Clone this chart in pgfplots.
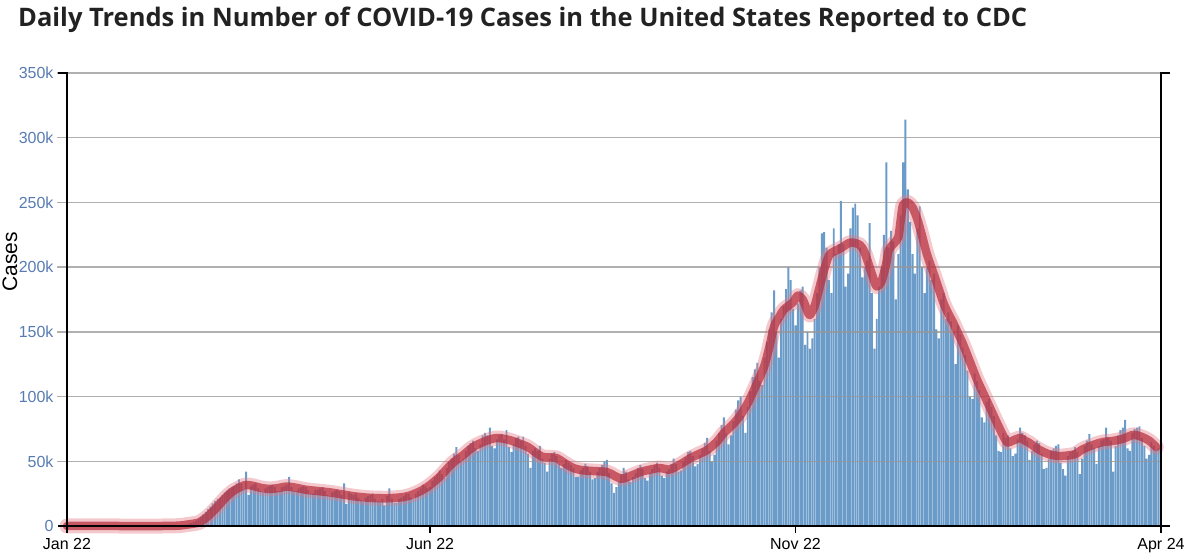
\documentclass[border=0pt]{standalone}
\usepackage{fontspec}
\setmainfont{Liberation Sans}
\newfontfamily\titlefont{Open Sans}
\usepackage{pgfplots}
\pgfplotsset{compat=1.18}
\definecolor{barblue}{RGB}{107,155,200}
\definecolor{tickblue}{RGB}{88,124,178}
\definecolor{avgred}{RGB}{182,42,56}
\definecolor{halo}{RGB}{228,120,132}
\definecolor{gridgray}{RGB}{150,150,150}
\definecolor{titlecol}{RGB}{34,34,34}
\begin{document}
\begin{tikzpicture}
\useasboundingbox (0,0) rectangle (1193pt,556pt);
\node[anchor=base west, inner sep=0, text=titlecol, font={\titlefont\bfseries\fontsize{25.5}{30}\selectfont}] at (18pt,529pt) {Daily Trends in Number of COVID-19 Cases in the United States Reported to CDC};
\node[rotate=90, anchor=base, inner sep=0, font={\fontsize{21}{24}\selectfont}] at (17pt,294pt) {Cases};
\begin{axis}[
  at={(67pt,30pt)}, anchor=south west,
  scale only axis, width=1094pt, height=453pt,
  xmin=0, xmax=458, ymin=0, ymax=350,
  axis line style={draw=none},
  clip=false,
  major tick length=0pt,
  xtick={0,152,305,458}, xticklabels={Jan 22,Jun 22,Nov 22,Apr 24},
  ytick={0,50,100,150,200,250,300,350},
  yticklabels={0,50k,100k,150k,200k,250k,300k,350k},
  xtick style={draw=none}, ytick style={draw=none},
  xticklabel style={font={\fontsize{16}{19}\selectfont}, text=black, yshift=-9pt},
  yticklabel style={font={\fontsize{16}{19}\selectfont}, text=tickblue, xshift=-10pt},
]
\addplot[ybar, bar width=0.82, bar shift=0pt, fill=barblue, draw=none] coordinates {
(40,0.1)(41,0.1)(42,0.2)(43,0.2)(44,0.3)(45,0.4)(46,0.5)(47,0.6)(48,0.8)(49,1.0)
(50,1.2)(51,1.6)(52,2.2)(53,3)(54,4)(55,5.5)(56,7)(57,9)(58,11)(59,13)
(60,15)(61,17.5)(62,19.5)(63,21)(64,22)(65,24)(66,26)(67,27.5)(68,29)(69,30)
(70,31)(71,33)(72,36)(73,33)(74,28)(75,42)(76,24)(77,31)(78,32)(79,33)
(80,29)(81,27)(82,26)(83,29)(84,30)(85,31)(86,32)(87,30)(88,27)(89,27)
(90,30)(91,31)(92,32)(93,38)(94,30)(95,27)(96,27)(97,29)(98,30)(99,31)
(100,30)(101,28)(102,25)(103,25)(104,28)(105,28)(106,29)(107,30)(108,27)(109,24)
(110,23)(111,26)(112,27)(113,28)(114,27)(115,24)(116,33)(117,17)(118,26)(119,25)
(120,24)(121,25)(122,22)(123,20)(124,19)(125,22)(126,23)(127,24)(128,25)(129,21)
(130,19)(131,19)(132,21)(133,16)(134,23)(135,29)(136,21)(137,18)(138,18)(139,21)
(140,22)(141,23)(142,25)(143,25)(144,22)(145,21)(146,25)(147,27)(148,29)(149,32)
(150,31)(151,29)(152,30)(153,35)(154,38)(155,40)(156,43)(157,40)(158,37)(159,45)
(160,50)(161,52)(162,56)(163,61)(164,55)(165,50)(166,52)(167,58)(168,62)(169,64)
(170,66)(171,60)(172,58)(173,63)(174,70)(175,72)(176,70)(177,76)(178,62)(179,60)
(180,67)(181,70)(182,71)(183,67)(184,74)(185,61)(186,57)(187,63)(188,68)(189,69)
(190,66)(191,69)(192,62)(193,56)(194,45)(195,58)(196,60)(197,58)(198,62)(199,52)
(200,49)(201,42)(202,52)(203,56)(204,57)(205,54)(206,48)(207,45)(208,48)(209,51)
(210,49)(211,47)(212,45)(213,38)(214,38)(215,43)(216,45)(217,48)(218,46)(219,42)
(220,36)(221,37)(222,42)(223,45)(224,47)(225,50)(226,51)(227,41)(228,33)(229,25.5)
(230,30)(231,34)(232,40)(233,45)(234,42)(235,36)(236,34)(237,38)(238,41)(239,45)
(240,47)(241,44)(242,37)(243,35)(244,41)(245,44)(246,47)(247,49)(248,45)(249,39)
(250,37)(251,42)(252,44)(253,48)(254,52)(255,48)(256,42)(257,43)(258,50)(259,53)
(260,57)(261,58)(262,54)(263,46)(264,48)(265,55)(266,60)(267,64)(268,68)(269,58)
(270,50)(271,55)(272,66)(273,72)(274,78)(275,84)(276,72)(277,63)(278,70)(279,81)
(280,90)(281,97)(282,100)(283,85)(284,72)(285,92)(286,104)(287,115)(288,121)(289,126)
(290,112)(291,109)(292,130)(293,142)(294,152)(295,165)(296,182)(297,150)(298,130)(299,160)
(300,170)(301,183)(302,200)(303,190)(304,168)(305,155)(306,172)(307,182)(308,185)(309,140)
(310,150)(311,137)(312,145)(313,160)(314,180)(315,200)(316,226)(317,227)(318,215)(319,190)
(320,180)(321,230)(322,210)(323,218)(324,251)(325,218)(326,185)(327,195)(328,230)(329,246)
(330,249)(331,240)(332,215)(333,192)(334,200)(335,205)(336,234)(337,180)(338,137)(339,160)
(340,185)(341,200)(342,225)(343,281)(344,215)(345,228)(346,220)(347,175)(348,210)(349,240)
(350,281)(351,314)(352,260)(353,235)(354,210)(355,195)(356,230)(357,247)(358,200)(359,180)
(360,200)(361,205)(362,190)(363,195)(364,152)(365,145)(366,175)(367,180)(368,160)(369,165)
(370,158)(371,150)(372,125)(373,155)(374,148)(375,138)(376,132)(377,120)(378,100)(379,98)
(380,118)(381,112)(382,105)(383,84)(384,80)(385,96)(386,98)(387,92)(388,85)(389,70)
(390,58)(391,57)(392,72)(393,68)(394,70)(395,60)(396,54)(397,56)(398,67)(399,76)
(400,72)(401,70)(402,66)(403,51)(404,58)(405,63)(406,66)(407,64)(408,56)(409,44)
(410,45)(411,52)(412,58)(413,60)(414,62)(415,63)(416,49)(417,44)(418,39)(419,54)
(420,57)(421,58)(422,61)(423,57)(424,40)(425,52)(426,62)(427,66)(428,71)(429,63)
(430,60)(431,48)(432,62)(433,66)(434,67)(435,76)(436,68)(437,66)(438,42)(439,62)
(440,70)(441,74)(442,76)(443,82)(444,60)(445,58)(446,72)(447,75)(448,76)(449,77)
(450,68)(451,62)(452,52)(453,55)(454,65)(455,62)(456,58)(457,60)(458,52)
};
\pgfplotsinvokeforeach{50,100,150,200,250,300,350}{
  \draw[gridgray, line width=1.3pt, opacity=0.75] (axis cs:0,#1) ++(-10pt,0) -- (axis cs:458,#1);
}
\addplot[halo, opacity=0.4, line width=15pt, smooth, line cap=round, line join=round] coordinates {
(0,0)(20,0)(40,0)(47,0.3)(50,1)(53,1.8)(55,2.5)(58,6)(61,11)(64,17)(67,23)(70,27.5)(73,30.5)(75,31.7)(78,31)(81,29.5)(85,28.6)(89,29.5)(92,30.5)(96,29.5)(100,28)(105,27)(110,26)(115,24.5)(120,23)(125,22)(130,21.5)(135,21.5)(141,22.4)(145,24.5)(149,28)(152,31.7)(156,38)(160,46)(162,49.5)(166,55)(170,61)(175,65.5)(180,68)(185,66.5)(189,64)(193,61)(196,57)(199,53.5)(202,53)(205,52.5)(208,49)(212,44.8)(216,43)(220,42.5)(226,41.7)(229,39)(232,36.5)(235,38)(240,41.7)(244,43.5)(248,44.8)(252,43.5)(254,44.8)(258,49)(261,52.5)(265,56)(268,58.7)(272,65)(275,71.8)(279,79)(282,85.8)(285,95)(287,102.7)(290,115)(292,124)(294,138)(296,154)(298,161)(300,167)(302,170)(304,173)(306,178)(308,175)(310,166)(311,163)(313,170)(315,184)(317,198)(319,209)(321,212)(324,214.7)(328,219)(332,217)(334,211)(336,200)(338,189)(339,185)(341,189)(343,203)(344,213)(346,218)(348,223)(349,236)(350,248)(352,250)(354,246)(356,237)(358,224)(360,210)(363,194)(365,183)(367,172)(369,164)(371,157)(373,149)(375,141)(378,127)(381,113)(384,101)(387,89)(390,77)(393,66)(394,64.5)(396,66)(399,68)(401,66)(403,64)(406,60)(409,57)(412,55)(416,54)(419,54.5)(422,55.5)(425,59)(428,61.5)(431,63.5)(434,65)(437,65.5)(440,66.4)(443,68)(446,70.3)(448,70)(450,68.8)(453,66)(456,61)
};
\addplot[avgred, opacity=0.7, line width=8.5pt, smooth, line cap=round, line join=round] coordinates {
(0,0)(20,0)(40,0)(47,0.3)(50,1)(53,1.8)(55,2.5)(58,6)(61,11)(64,17)(67,23)(70,27.5)(73,30.5)(75,31.7)(78,31)(81,29.5)(85,28.6)(89,29.5)(92,30.5)(96,29.5)(100,28)(105,27)(110,26)(115,24.5)(120,23)(125,22)(130,21.5)(135,21.5)(141,22.4)(145,24.5)(149,28)(152,31.7)(156,38)(160,46)(162,49.5)(166,55)(170,61)(175,65.5)(180,68)(185,66.5)(189,64)(193,61)(196,57)(199,53.5)(202,53)(205,52.5)(208,49)(212,44.8)(216,43)(220,42.5)(226,41.7)(229,39)(232,36.5)(235,38)(240,41.7)(244,43.5)(248,44.8)(252,43.5)(254,44.8)(258,49)(261,52.5)(265,56)(268,58.7)(272,65)(275,71.8)(279,79)(282,85.8)(285,95)(287,102.7)(290,115)(292,124)(294,138)(296,154)(298,161)(300,167)(302,170)(304,173)(306,178)(308,175)(310,166)(311,163)(313,170)(315,184)(317,198)(319,209)(321,212)(324,214.7)(328,219)(332,217)(334,211)(336,200)(338,189)(339,185)(341,189)(343,203)(344,213)(346,218)(348,223)(349,236)(350,248)(352,250)(354,246)(356,237)(358,224)(360,210)(363,194)(365,183)(367,172)(369,164)(371,157)(373,149)(375,141)(378,127)(381,113)(384,101)(387,89)(390,77)(393,66)(394,64.5)(396,66)(399,68)(401,66)(403,64)(406,60)(409,57)(412,55)(416,54)(419,54.5)(422,55.5)(425,59)(428,61.5)(431,63.5)(434,65)(437,65.5)(440,66.4)(443,68)(446,70.3)(448,70)(450,68.8)(453,66)(456,61)
};
\draw[black, line width=1.3pt] (rel axis cs:0,0) ++(-9pt,0) -- (rel axis cs:0,0) -- (rel axis cs:0,1) -- ++(-9pt,0);
\draw[black, line width=1.3pt] (rel axis cs:1,0) ++(9pt,0) -- (rel axis cs:1,0) -- (rel axis cs:1,1) -- ++(9pt,0);
\draw[black, line width=1.3pt] (rel axis cs:0,0) -- (rel axis cs:1,0);
\pgfplotsinvokeforeach{0,152,305,458}{
  \draw[black, line width=1.3pt] (axis cs:#1,0) -- ++(0,-7pt);
}
\end{axis}
\end{tikzpicture}
\end{document}
